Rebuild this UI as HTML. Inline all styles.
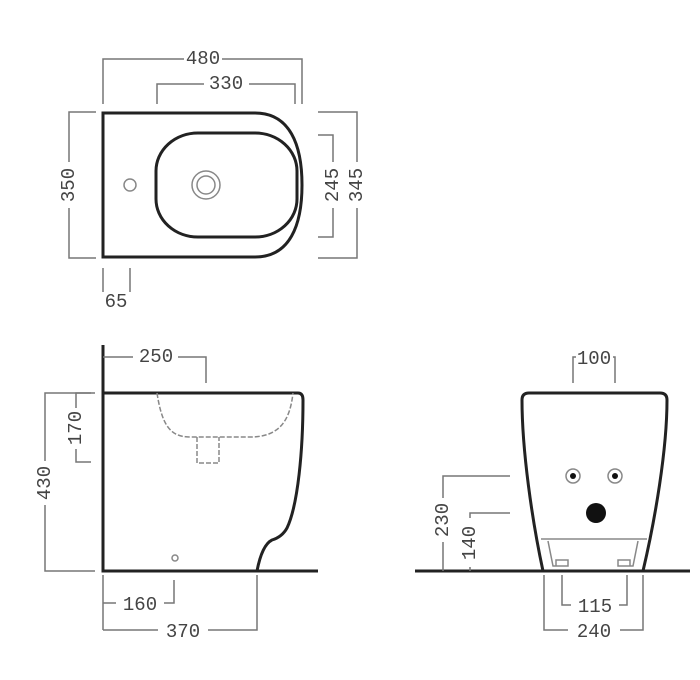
<!DOCTYPE html>
<html><head><meta charset="utf-8"><style>
html,body{margin:0;padding:0;background:#fff}
svg{display:block}
text{font-family:"Liberation Mono","DejaVu Sans Mono",monospace;font-size:19px;fill:#444;text-anchor:middle;dominant-baseline:central}
</style></head><body>
<svg width="700" height="680" viewBox="0 0 700 680" xmlns="http://www.w3.org/2000/svg">
<g fill="none" stroke="#222" stroke-width="3">
<path d="M103,113 H255 C290,113 302,145 302,185 C302,225 290,257 255,257 H103 Z"/>
<rect x="156" y="133" width="141" height="104" rx="42" ry="38"/>
<path d="M103,345 V571 H318"/>
<path d="M103,393 H298 Q303,393 303,400 C303,450 298,505 287,528 Q282,537 272,540 Q262,545 257,571"/>
<path d="M415,571 H690"/>
<path d="M543,571 C532,520 522,450 522,400 Q522,393 529,393 H660 Q667,393 667,400 C667,450 655,520 643,571"/>
</g>
<g fill="none" stroke="#888" stroke-width="1.5">
<circle cx="206" cy="185" r="14"/><circle cx="206" cy="185" r="9"/>
<circle cx="130" cy="185" r="6"/>
<circle cx="175" cy="558" r="3"/>
<circle cx="573" cy="476" r="7"/><circle cx="615" cy="476" r="7"/>
<path d="M541,539 H647"/>
<path d="M548,541 L553,566 H566 M638,541 L633,566 H620 M556,560 h12 v6 h-12z M618,560 h12 v6 h-12z"/>
</g>
<g fill="#111"><circle cx="573" cy="476" r="3"/><circle cx="615" cy="476" r="3"/><circle cx="596" cy="513" r="10"/></g>
<g fill="none" stroke="#888" stroke-width="1.5" stroke-dasharray="5,2">
<path d="M157,393 C162,425 170,437 190,437 H250 C280,437 290,420 293,393"/>
<path d="M197,437 V463 H219 V437"/>
</g>
<g fill="none" stroke="#777" stroke-width="1.5">
<path d="M103,104 V59 H184 M222,59 H302 V104"/>
<path d="M157,104 V84 H204 M249,84 H295 V104"/>
<path d="M96,112 H69 V162 M69,208 V258 H96"/>
<path d="M318,135 H333 V162 M333,208 V237 H318"/>
<path d="M318,112 H357 V162 M357,208 V258 H318"/>
<path d="M103,268 V292 M130,268 V292"/>
<path d="M103,357 H133 M178,357 H206 V383"/>
<path d="M95,393 H45 V461 M45,505 V571 H95"/>
<path d="M91,393 H76 V408 M76,449 V462 H91"/>
<path d="M103,575 V630 M103,603 H116 M164,603 H174 V580"/>
<path d="M103,630 H158 M208,630 H257 V575"/>
<path d="M573,383 V357 H576 M613,357 H615 V383"/>
<path d="M510,476 H443 V498 M443,542 V571"/>
<path d="M510,513 H470 V518 M470,567 V571"/>
<path d="M562,575 V605 H571 M619,605 H627 V575"/>
<path d="M544,575 V630 H568 M620,630 H643 V575"/>
</g>
<text x="203" y="59">480</text>
<text x="226" y="84">330</text>
<text x="69" y="185" transform="rotate(-90 69 185)">350</text>
<text x="333" y="185" transform="rotate(-90 333 185)">245</text>
<text x="357" y="185" transform="rotate(-90 357 185)">345</text>
<text x="116" y="302">65</text>
<text x="156" y="357">250</text>
<text x="45" y="483" transform="rotate(-90 45 483)">430</text>
<text x="76" y="428" transform="rotate(-90 76 428)">170</text>
<text x="140" y="605">160</text>
<text x="183" y="632">370</text>
<text x="594" y="359">100</text>
<text x="443" y="520" transform="rotate(-90 443 520)">230</text>
<text x="470" y="543" transform="rotate(-90 470 543)">140</text>
<text x="595" y="607">115</text>
<text x="594" y="632">240</text>
</svg>
</body></html>
